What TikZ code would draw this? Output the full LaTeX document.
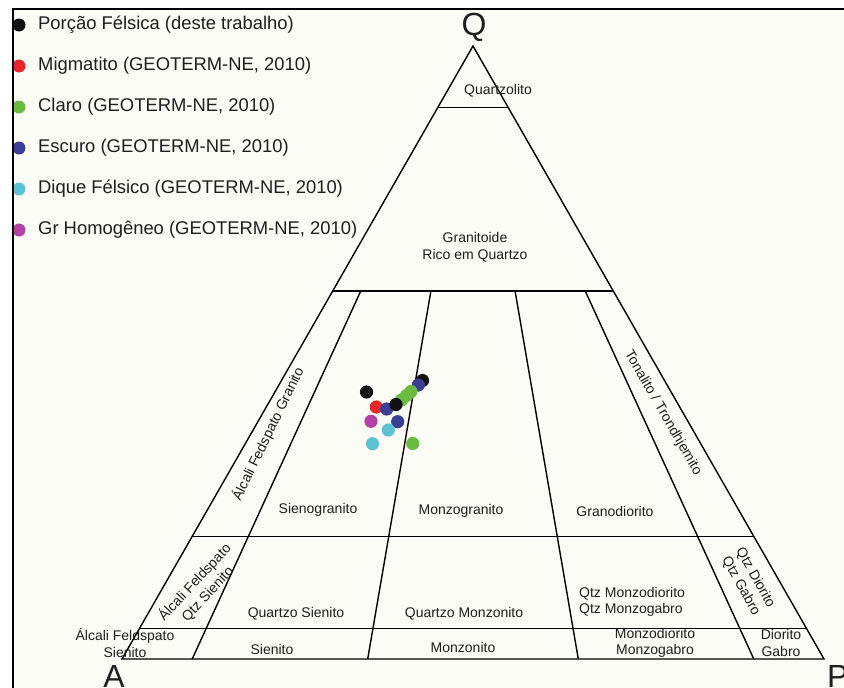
\documentclass[tikz,border=0pt]{standalone}
\usepackage{fontspec}
\setmainfont{Liberation Sans}
\usetikzlibrary{calc}
\definecolor{paper}{RGB}{252,252,246}
\definecolor{ink}{RGB}{30,30,30}
\definecolor{ptblack}{RGB}{18,18,18}
\definecolor{ptred}{RGB}{232,38,42}
\definecolor{ptgreen}{RGB}{104,188,62}
\definecolor{ptblue}{RGB}{58,62,148}
\definecolor{ptcyan}{RGB}{92,194,212}
\definecolor{ptmagenta}{RGB}{180,66,166}
\begin{document}
\begin{tikzpicture}[x=1pt,y=-1pt,
  field/.style={line width=1.4pt, line join=miter, draw=black},
  lbl/.style={font=\fontsize{14}{16.5}\selectfont, text=ink, inner sep=0pt, align=center},
  apex/.style={font=\fontsize{32}{32}\selectfont, text=ink, inner sep=0pt},
  leg/.style={font=\fontsize{18.4}{20}\selectfont, text=ink, inner sep=0pt, anchor=west},
  dot/.style={circle, inner sep=0pt, minimum size=13.2pt}
]
\useasboundingbox (0,0) rectangle (844,688);
\fill[white] (0,0) rectangle (844,688);
\fill[paper] (13,9) rectangle (844,688);

% QAPF vertices
\coordinate (A) at (122,659);
\coordinate (P) at (824,659);
\coordinate (Q) at (473,46);

% Q = 90, 60, 20, 5 % levels
\foreach \q/\n in {0.9/90,0.6/60,0.2/20,0.05/5} {
  \coordinate (L\n) at ($(A)!\q!(Q)$);
  \coordinate (R\n) at ($(P)!\q!(Q)$);
}
% P/(A+P) = 10, 35, 65, 90 % dividers (radiating from Q)
\foreach \r in {10,35,65,90} {
  \coordinate (T\r) at ($(L60)!\r/100!(R60)$);
  \coordinate (B\r) at ($(A)!\r/100!(P)$);
}

\draw[field] (A) -- (P) -- (Q) -- cycle;
\foreach \n in {90,60,20,5} \draw[field] (L\n) -- (R\n);
\foreach \r in {10,35,65,90} \draw[field] (T\r) -- (B\r);

% apex letters
\node[apex] (labQ) at (474,27) {Q};
\node[apex, anchor=base] (labA) at (114,687) {A};
\node[apex, anchor=base west] (labP) at (827,687) {P};

% field names
\node[lbl] (f1) at (498,91) {Quartzolito};
\node[lbl] (f2) at (475,247) {Granitoide\\Rico em Quartzo};
\node[lbl, rotate=64] (f3) at (268,434) {Álcali Fedspato Granito};
\node[lbl] (f4) at (318,510) {Sienogranito};
\node[lbl] (f5) at (461,511) {Monzogranito};
\node[lbl] (f6) at (615,511) {Granodiorito};
\node[lbl, rotate=-60] (f7) at (663,413) {Tonalito / Trondhjemito};
\node[lbl, rotate=47, font=\fontsize{14}{17.5}\selectfont] (f8) at (201,588) {Álcali Feldspato\\Qtz Sienito};
\node[lbl] (f9) at (296,614) {Quartzo Sienito};
\node[lbl] (f10) at (464,614) {Quartzo Monzonito};
\node[lbl, align=left, anchor=west] (f11) at (579,602) {Qtz Monzodiorito\\Qtz Monzogabro};
\node[lbl, rotate=-61] (f12) at (748,582) {Qtz Diorito\\Qtz Gabro};
\node[lbl] (f13) at (125,643) {Álcali Feldspato\\Sienito};
\node[lbl] (f14) at (272,649) {Sienito};
\node[lbl] (f15) at (463,647) {Monzonito};
\node[lbl] (f16) at (655,643) {Monzodiorito\\Monzogabro};
\node[lbl] (f17) at (781,643) {Diorito\\Gabro};

% samples
\foreach \c/\x/\y [count=\i] in {
  ptblack/422.5/380.5, ptblue/418.3/385, ptgreen/411/391.5,
  ptgreen/406.5/395.5, ptgreen/401.5/400, ptred/376.3/407,
  ptblue/386.7/409, ptblack/396/404.5, ptblack/366.5/392,
  ptmagenta/371/421.3, ptblue/397.7/421.7, ptcyan/388.3/430,
  ptcyan/372.5/443.7, ptgreen/412.7/443.5}
  \node[dot, fill=\c] (s\i) at (\x,\y) {};

% legend
\foreach \c/\t [count=\i] in {
  ptblack/{Porção Félsica (deste trabalho)},
  ptred/{Migmatito (GEOTERM-NE, 2010)},
  ptgreen/{Claro (GEOTERM-NE, 2010)},
  ptblue/{Escuro (GEOTERM-NE, 2010)},
  ptcyan/{Dique Félsico (GEOTERM-NE, 2010)},
  ptmagenta/{Gr Homogêneo (GEOTERM-NE, 2010)}} {
  \node[dot, fill=\c, minimum size=13pt] (k\i) at (19,{25+41*(\i-1)}) {};
  \node[leg] (t\i) at (38,{25+41*(\i-1)}) {\t};
}

% frame
\draw[line width=2pt] (13,688) -- (13,9) -- (844,9);
\end{tikzpicture}
\end{document}
